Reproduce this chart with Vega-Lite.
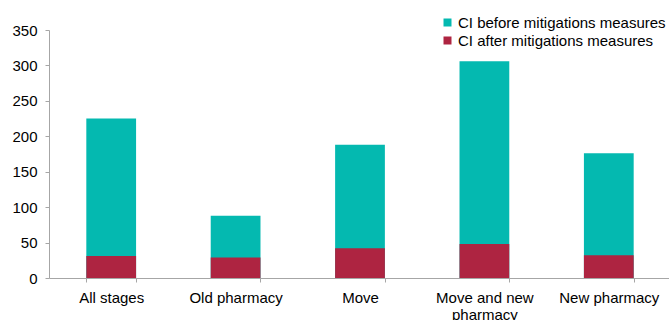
{
  "$schema": "https://vega.github.io/schema/vega-lite/v6.json",
  "width": 622,
  "height": 248,
  "autosize": {"type": "none"},
  "padding": {"left": 49, "top": 30, "right": 0, "bottom": 42},
  "background": "white",
  "config": {
    "view": {"stroke": null},
    "font": "Liberation Sans",
    "axis": {"grid": false, "domainColor": "#a6a6a6", "tickColor": "#a6a6a6", "labelColor": "#000000", "labelFont": "Liberation Sans", "labelFontSize": 15, "tickSize": 4, "title": null}
  },
  "data": {
    "values": [
      {"stage": "All stages", "series": "CI before mitigations measures", "value": 225},
      {"stage": "Old pharmacy", "series": "CI before mitigations measures", "value": 88},
      {"stage": "Move", "series": "CI before mitigations measures", "value": 188},
      {"stage": "Move and new pharmacy", "series": "CI before mitigations measures", "value": 306},
      {"stage": "New pharmacy", "series": "CI before mitigations measures", "value": 176},
      {"stage": "All stages", "series": "CI after mitigations measures", "value": 31},
      {"stage": "Old pharmacy", "series": "CI after mitigations measures", "value": 29},
      {"stage": "Move", "series": "CI after mitigations measures", "value": 42},
      {"stage": "Move and new pharmacy", "series": "CI after mitigations measures", "value": 48},
      {"stage": "New pharmacy", "series": "CI after mitigations measures", "value": 32}
    ]
  },
  "mark": {"type": "bar"},
  "encoding": {
    "x": {
      "field": "stage",
      "type": "nominal",
      "sort": null,
      "scale": {"paddingInner": 0.6, "paddingOuter": 0.3},
      "axis": {"labelAngle": 0, "tickBand": "extent", "labelPadding": 8, "labelLineHeight": 17, "labelExpr": "datum.label == 'Move and new pharmacy' ? ['Move and new', 'pharmacy'] : datum.label"}
    },
    "y": {
      "field": "value",
      "type": "quantitative",
      "stack": null,
      "scale": {"domain": [0, 350], "nice": false},
      "axis": {"values": [0, 50, 100, 150, 200, 250, 300, 350], "labelPadding": 8}
    },
    "color": {
      "field": "series",
      "type": "nominal",
      "sort": null,
      "scale": {"domain": ["CI before mitigations measures", "CI after mitigations measures"], "range": ["#04b9b0", "#ae2441"]},
      "legend": {"title": null, "orient": "none", "legendX": 391, "legendY": -15, "symbolType": "square", "symbolSize": 64, "symbolStrokeWidth": 0, "labelFontSize": 15, "labelLimit": 400, "labelColor": "#000000", "labelOffset": 3, "rowPadding": 2, "padding": 0}
    }
  }
}
